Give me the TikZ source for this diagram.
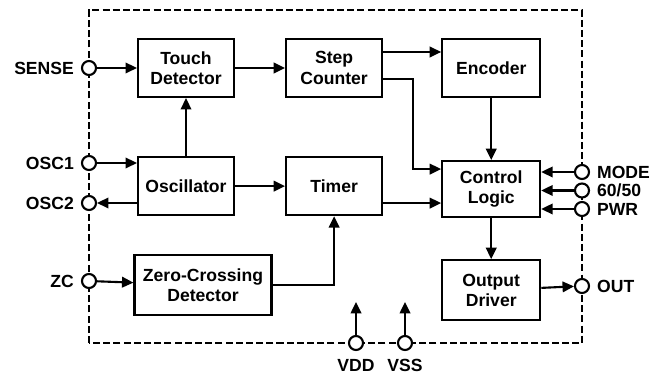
\documentclass[tikz,border=0pt]{standalone}
\usepackage{fontspec}
\setmainfont{Liberation Sans}
\usetikzlibrary{arrows.meta, positioning}

\begin{document}
\begin{tikzpicture}[font=\bfseries\fontsize{10}{11.5}\selectfont, node distance=1cm,
    b/.style={draw, line width=1.2pt, minimum width=1.92cm, minimum height=1.16cm, align=center, inner sep=1pt},
    io/.style={draw, circle, line width=1.2pt, fill=white, minimum size=0.28cm, inner sep=0pt},
    lbl/.style={inner sep=1pt},
    arr/.style={-{Triangle[length=6.5pt, width=6pt]}, line width=1.2pt},
    dashframe/.style={dash pattern=on 4pt off 1.8pt, line width=0.9pt}]
    \useasboundingbox (0,0) rectangle (13.14,7.54);
    \draw[dashframe] (1.78,0.68) rectangle (11.64,7.34);
    % blocks
    \node[b] (td) at (3.72,6.18) {Touch\\Detector};
    \node[b, right=1.0cm of td] (sc) {Step\\Counter};
    \node[b, right=1.16cm of sc, minimum width=1.96cm] (enc) {Encoder};
    \node[b, below=1.16cm of td] (osc) {Oscillator};
    \node[b, right=1.0cm of osc] (tmr) {Timer};
    \node[b, below=1.24cm of enc, minimum width=1.96cm, minimum height=1.12cm] (cl) {Control\\Logic};
    \node[b, below=0.82cm of cl, minimum width=1.96cm, minimum height=1.2cm] (od) {Output\\Driver};
    \node[b, below right=0.76cm and -0.07cm of osc.south west, minimum width=2.74cm, minimum height=1.2cm] (zcd) {Zero-Crossing\\Detector};
    % pins
    \node[io] (sense) at (1.78,6.18) {};
    \node[io] (osc1) at (1.78,4.28) {};
    \node[io] (osc2) at (1.78,3.48) {};
    \node[io] (zc) at (1.78,1.92) {};
    \node[io] (mode) at (11.64,4.10) {};
    \node[io] (freq) at (11.64,3.73) {};
    \node[io] (pwr) at (11.64,3.36) {};
    \node[io] (out) at (11.64,1.82) {};
    \node[io] (vdd) at (7.12,0.68) {};
    \node[io] (vss) at (8.10,0.68) {};
    \node[lbl, left=0.1cm of sense] (lsense) {SENSE};
    \node[lbl, left=0.1cm of osc1] (losc1) {OSC1};
    \node[lbl, left=0.1cm of osc2] (losc2) {OSC2};
    \node[lbl, left=0.1cm of zc] (lzc) {ZC};
    \node[lbl, right=0.1cm of mode] (lmode) {MODE};
    \node[lbl, right=0.1cm of freq] (lfreq) {60/50};
    \node[lbl, right=0.1cm of pwr] (lpwr) {PWR};
    \node[lbl, right=0.1cm of out] (lout) {OUT};
    \node[lbl, below=0.12cm of vdd] (lvdd) {VDD};
    \node[lbl, below=0.12cm of vss] (lvss) {VSS};
    \coordinate (vddt) at ([yshift=0.82cm]vdd.center);
    \coordinate (vsst) at ([yshift=0.82cm]vss.center);
    % connectors
    \draw[arr] (sense) -- (td);
    \draw[arr] (td) -- (sc);
    \draw[arr] ([yshift=0.32cm]sc.east) -- ([yshift=0.32cm]sc.east -| enc.west);
    \draw[arr] ([yshift=-0.22cm]sc.east) -- ++(0.6,0) |- ([yshift=0.4cm]cl.west);
    \draw[arr] (enc) -- (cl);
    \draw[arr] (osc1) -- (osc1 -| osc.west);
    \draw[arr] (osc2 -| osc.west) -- (osc2);
    \draw[arr] (osc) -- (td);
    \draw[arr] (osc) -- (tmr);
    \draw[arr] ([yshift=-0.34cm]tmr.east) -- ([yshift=-0.34cm]tmr.east -| cl.west);
    \draw[arr] (zc) -- (zcd);
    \draw[arr] (zcd.east) -| (tmr.south);
    \draw[arr] (mode) -- (mode -| cl.east);
    \draw[arr] (freq) -- (freq -| cl.east);
    \draw[arr] (pwr) -- (pwr -| cl.east);
    \draw[arr] (cl) -- (od);
    \draw[arr] (od) -- (out);
    \draw[arr] (vdd) -- (vddt);
    \draw[arr] (vss) -- (vsst);
\end{tikzpicture}
\end{document}
